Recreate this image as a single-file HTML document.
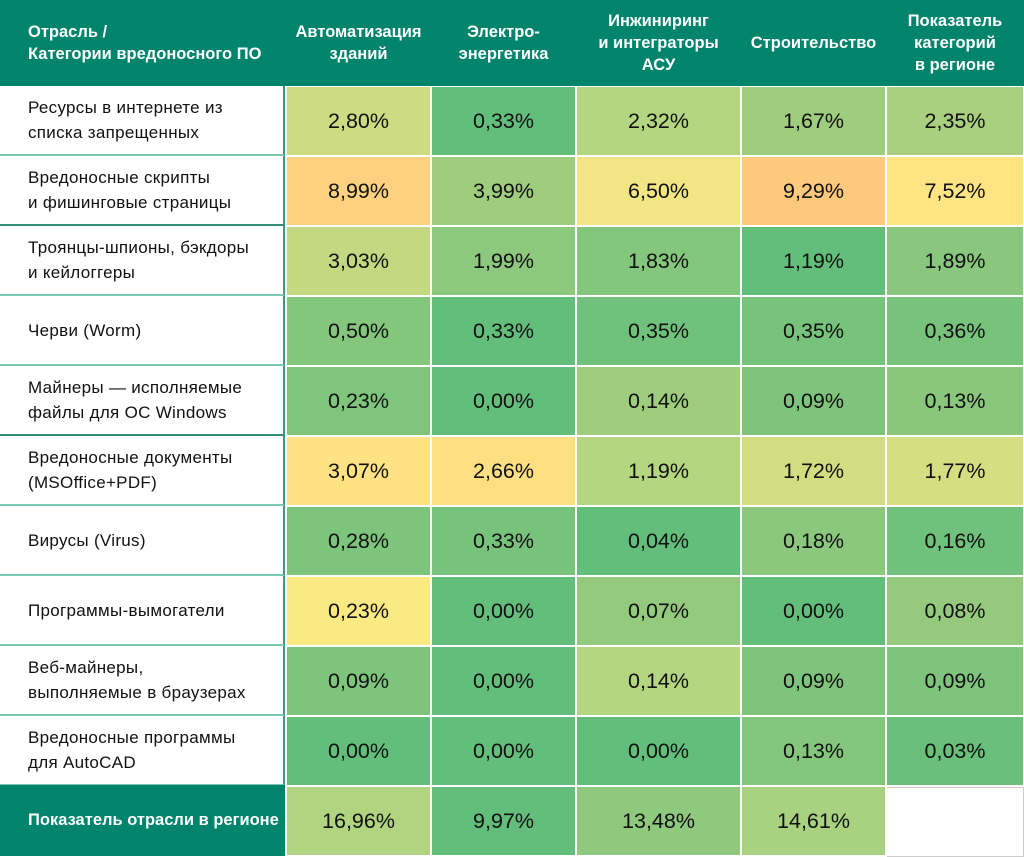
<!DOCTYPE html>
<html><head><meta charset="utf-8"><style>
body{margin:0;width:1024px;height:856px;background:#fff;position:relative;overflow:hidden;font-family:"Liberation Sans","DejaVu Sans",sans-serif}
.h{position:absolute;top:0;height:86px;background:#00846b;color:#fff;font-weight:bold;font-size:16.5px;line-height:22px;display:flex;align-items:center;justify-content:center;text-align:center;white-space:nowrap}
.hd{position:absolute;left:0;top:0;width:1024px;height:86px;background:#00846b}
.l{position:absolute;left:0;width:285px;background:#fff;font-size:17px;letter-spacing:0.3px;line-height:25px;color:#111;display:flex;align-items:center;padding-left:28px;box-sizing:border-box;border-bottom:2px solid #7ccab6;border-right:2px solid #3a9a84;white-space:nowrap}
.c{position:absolute;display:flex;align-items:center;justify-content:center;font-size:21.5px;color:#111}
</style></head><body>
<div class="hd"></div>
<div class="h" style="left:28px;width:258px;justify-content:flex-start;text-align:left">Отрасль /<br>Категории вредоносного ПО</div>
<div class="h" style="left:286px;width:145px">Автоматизация<br>зданий</div>
<div class="h" style="left:431px;width:145px">Электро-<br>энергетика</div>
<div class="h" style="left:576px;width:165px">Инжиниринг<br>и интеграторы<br>АСУ</div>
<div class="h" style="left:741px;width:145px">Строительство</div>
<div class="h" style="left:886px;width:138px">Показатель<br>категорий<br>в регионе</div>
<div id="t"></div>
<script>
var labels=["Ресурсы в интернете из<br>списка запрещенных","Вредоносные скрипты<br>и фишинговые страницы","Троянцы-шпионы, бэкдоры<br>и кейлоггеры","Черви (Worm)","Майнеры — исполняемые<br>файлы для ОС Windows","Вредоносные документы<br>(MSOffice+PDF)","Вирусы (Virus)","Программы-вымогатели","Веб-майнеры,<br>выполняемые в браузерах","Вредоносные программы<br>для AutoCAD"];
var d=[
[["2,80%","#cddc82"],["0,33%","#63be7b"],["2,32%","#b5d680"],["1,67%","#9fcd7e"],["2,35%","#a8d07f"]],
[["8,99%","#fdd17f"],["3,99%","#9fcd7e"],["6,50%","#f1e683"],["9,29%","#fdc97d"],["7,52%","#ffe483"]],
[["3,03%","#c2d981"],["1,99%","#8cc87d"],["1,83%","#85c67d"],["1,19%","#63be7b"],["1,89%","#88c77d"]],
[["0,50%","#85c67d"],["0,33%","#63be7b"],["0,35%","#70c17b"],["0,35%","#78c37c"],["0,36%","#78c37c"]],
[["0,23%","#80c57c"],["0,00%","#63be7b"],["0,14%","#9fcd7e"],["0,09%","#7ec47c"],["0,13%","#8ac77d"]],
[["3,07%","#fee283"],["2,66%","#fee083"],["1,19%","#b5d680"],["1,72%","#d2dd82"],["1,77%","#d5df82"]],
[["0,28%","#7dc47c"],["0,33%","#78c37c"],["0,04%","#63be7b"],["0,18%","#8bc87d"],["0,16%","#6fc17b"]],
[["0,23%","#fbe983"],["0,00%","#63be7b"],["0,07%","#94ca7e"],["0,00%","#63be7b"],["0,08%","#95ca7e"]],
[["0,09%","#7ec47c"],["0,00%","#63be7b"],["0,14%","#b5d680"],["0,09%","#7ec47c"],["0,09%","#7ec47c"]],
[["0,00%","#63be7b"],["0,00%","#63be7b"],["0,00%","#63be7b"],["0,13%","#85c67d"],["0,03%","#6abf7b"]],
[["16,96%","#b0d47f"],["9,97%","#63be7b"],["13,48%","#8fc97d"],["14,61%","#a8d27f"],["","#fff"]]];
var xs=[286,431,576,741,886,1024];var h="";
for(var i=0;i<11;i++){var y=86+70*i,hh=70;
if(i<10)h+='<div class="l" style="top:'+y+'px;height:'+hh+'px;'+((i==1||i==4)?'border-bottom-color:#2f8f78':'')+'">'+labels[i]+'</div>';
else h+='<div class="l" style="top:'+(y-1)+'px;height:71px;background:#00846b;color:#fff;font-weight:bold;font-size:16.5px;letter-spacing:0;border:none">Показатель отрасли в регионе</div>';
for(var j=0;j<5;j++){var w=xs[j+1]-xs[j]-2;var ex=(i==10&&j==4)?'border:1px solid #ccc;border-left:none;':'';
h+='<div class="c" style="'+ex+'left:'+(xs[j]+1)+'px;top:'+(y+1)+'px;width:'+w+'px;height:'+(hh-2)+'px;background:'+d[i][j][1]+'">'+d[i][j][0]+'</div>';}}
document.getElementById('t').innerHTML=h;
</script>
</body></html>
